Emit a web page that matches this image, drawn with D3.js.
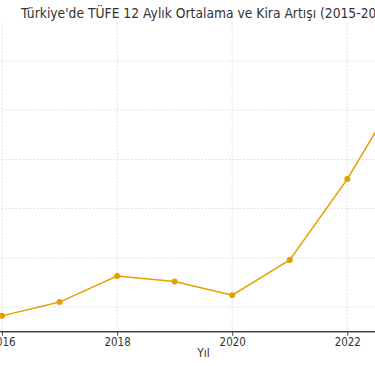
<!DOCTYPE html>
<html><head><meta charset="utf-8">
<script src="https://cdn.jsdelivr.net/npm/d3@7"></script>
<style>html,body{margin:0;padding:0;background:#fff;overflow:hidden}svg{display:block}</style>
</head><body><svg id="c" width="375" height="366"></svg>
<script>
const years = [2016, 2017, 2018, 2019, 2020, 2021, 2022, 2023];
const values = [8.2, 11.0, 16.3, 15.2, 12.4, 19.55, 36.0, 55.6];
const xTicks = [2016, 2018, 2020, 2022, 2024];
const yTicks = [10, 20, 30, 40, 50, 60];
const title = "Türkiye'de TÜFE 12 Aylık Ortalama ve Kira Artışı (2015-2024)";
const xLabel = "Yıl";

const svg = d3.select("#c");
const W = 375, H = 366;
const plotTop = 23, plotBottom = 331.7;
const sx = 0.89; // horizontal squeeze of the text in the reference
const x = d3.scaleLinear().domain([2016, 2022]).range([2.0, 347.3]);
const y = d3.scaleLinear().domain([0, 60]).range([356.2, 61]);
const font = "DejaVu Sans, sans-serif";

svg.append("defs").append("clipPath").attr("id", "pc")
  .append("rect").attr("x", -100).attr("y", plotTop).attr("width", W + 200).attr("height", plotBottom - plotTop);

const g = svg.append("g").attr("clip-path", "url(#pc)");

// grid
g.selectAll("line.vg").data(xTicks).join("line").attr("class", "vg")
  .attr("x1", d => x(d)).attr("x2", d => x(d)).attr("y1", plotTop).attr("y2", plotBottom)
  .attr("stroke", "#d9d9d9").attr("stroke-width", 0.8).attr("stroke-dasharray", "2,1.5");
g.selectAll("line.hg").data(yTicks).join("line").attr("class", "hg")
  .attr("x1", -100).attr("x2", W + 100).attr("y1", d => y(d)).attr("y2", d => y(d))
  .attr("stroke", "#d9d9d9").attr("stroke-width", 0.8).attr("stroke-dasharray", "2,1.5");

const data = years.map((yr, i) => ({yr, v: values[i]}));
g.append("path").datum(data)
  .attr("d", d3.line().x(d => x(d.yr)).y(d => y(d.v)))
  .attr("fill", "none").attr("stroke", "#E69F00").attr("stroke-width", 1.5);
g.selectAll("circle").data(data).join("circle")
  .attr("cx", d => x(d.yr)).attr("cy", d => y(d.v)).attr("r", 3)
  .attr("fill", "#E69F00");

// x axis
const ax = svg.append("g").attr("transform", `translate(0,${plotBottom})`)
  .call(d3.axisBottom(x).tickValues(xTicks).tickFormat(d3.format("d")).tickSize(4).tickPadding(2));
ax.select(".domain").attr("stroke", "#444").attr("stroke-width", 1.4).attr("d", `M-100,0H${W + 100}`);
ax.selectAll(".tick line").attr("stroke", "#444").attr("stroke-width", 1);
ax.selectAll(".tick text").attr("fill", "#333").attr("font-family", font).attr("font-size", 11.6)
  .attr("transform", `scale(${sx},1)`);

svg.append("text").attr("transform", `translate(${x(2019.5)},357) scale(${sx},1)`).attr("text-anchor", "middle")
  .attr("font-family", font).attr("font-size", 12).attr("fill", "#333").text(xLabel);

svg.append("text").attr("transform", `translate(21,18) scale(0.87,1)`).attr("font-family", font).attr("font-size", 14.2)
  .attr("fill", "#333").text(title);
</script></body></html>
